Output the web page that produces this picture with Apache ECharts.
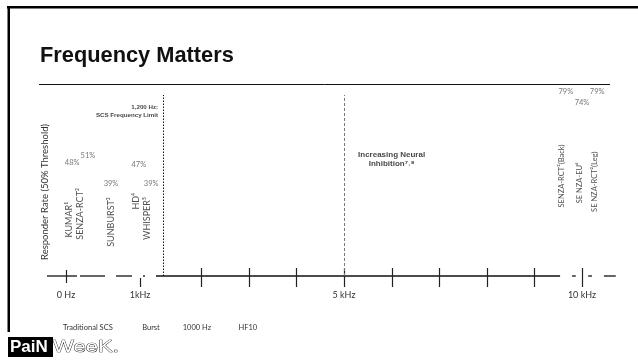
<!DOCTYPE html>
<html>
<head>
<meta charset="utf-8">
<script src="https://cdn.jsdelivr.net/npm/echarts@6/dist/echarts.min.js"></script>
<style>
html,body{margin:0;padding:0;background:#fff;}
#chart{width:638px;height:360px;}
</style>
</head>
<body>
<div id="chart"></div>
<script>
// ---- data ----
const titleText = 'Frequency Matters';
const yAxisTitle = 'Responder Rate (50% Threshold)';
const studies = ['KUMAR¹', 'SENZA-RCT²', 'SUNBURST³', 'HD⁴', 'WHISPER⁵', 'SENZA-RCT²(Back)', 'SE NZA-EU⁶', 'SE NZA-RCT²(Leg)'];
const responderRates = [48, 51, 39, 47, 39, 79, 74, 79];
// display positions on the (broken) frequency axis, in kHz units
const rateLabelPos = [-0.71, -0.38, 0.105, 0.69, 0.95, 9.66, 10.0, 10.32];
const studyNamePos = [-0.78, -0.55, 0.10, 0.63, 0.86, 9.58, 9.94, 10.27];
const studyNameLevel = [24.5, 27, 23.5, 32.5, 25, 43.5, 40.5, 41];
const studyNameSize = [9, 9, 9, 9, 9, 7.5, 7.5, 7.5];
const tickValues = [-0.84, 0.714, 2, 3, 4, 5, 6, 7, 8, 9, 10];
const tickKinds = ['short', 'below', 'full', 'full', 'full', 'full', 'full', 'full', 'full', 'full', 'full'];
const tickLabelValues = [-0.84, 0.714, 5, 10];
const tickLabels = ['0 Hz', '1kHz', '5 kHz', '10 kHz'];
const therapyPos = [-0.38, 0.945, 1.91, 2.98];
const therapyLabels = ['Traditional SCS', 'Burst', '1000 Hz', 'HF10'];
const axisSegments = [[-1.24, -0.61], [-0.546, -0.02], [0.21, 0.546], [0.777, 0.82], [1.05, 9.54], [9.79, 9.87], [10.13, 10.21], [10.46, 10.71]];
const limitKHz = 1.2;
const limitLabel = '1,200 Hz:\nSCS Frequency Limit';
const neuralKHz = 5;
const neuralLabel = 'Increasing Neural\nInhibition⁷˒⁸';
const neuralLabelPos = [6.0, 50.8];
const guideTop = 78.7;

// ---- chart ----
const FONT = 'Lato, "Open Sans", sans-serif';
const chart = echarts.init(document.getElementById('chart'), null, {renderer: 'canvas'});

const tickShape = {short: [-6, 7], below: [2, 11], full: [-8, 11]};

function labelFor(values, labels) {
  return function (v) {
    for (let i = 0; i < values.length; i++) {
      if (Math.abs(values[i] - v) < 1e-6) return labels[i];
    }
    return '';
  };
}

const option = {
  backgroundColor: '#fff',
  animation: false,
  title: {
    text: titleText,
    left: 40, top: 45, padding: 0,
    textStyle: {fontFamily: '"Liberation Sans", Arial, sans-serif', fontWeight: 'bold', fontSize: 21.8, color: '#111'}
  },
  grid: {left: 46.5, right: 22.7, top: 46, bottom: 84},
  xAxis: [{
    type: 'value', min: -1.25, max: 10.7,
    axisLine: {show: false}, axisTick: {show: false}, splitLine: {show: false},
    axisLabel: {
      show: true, customValues: tickLabelValues, margin: 15,
      formatter: labelFor(tickLabelValues, tickLabels),
      fontFamily: FONT, fontSize: 9, color: '#333'
    }
  }, {
    type: 'value', min: -1.25, max: 10.7, position: 'bottom',
    axisLine: {show: false}, axisTick: {show: false}, splitLine: {show: false},
    axisLabel: {
      show: true, customValues: therapyPos, margin: 48,
      formatter: labelFor(therapyPos, therapyLabels),
      fontFamily: FONT, fontSize: 7.5, color: '#333'
    }
  }],
  yAxis: {
    type: 'value', min: 0, max: 100,
    axisLine: {show: false}, axisTick: {show: false}, axisLabel: {show: false}, splitLine: {show: false},
    name: yAxisTitle, nameLocation: 'middle', nameRotate: 90, nameGap: -3,
    nameTextStyle: {fontFamily: FONT, fontSize: 9.5, color: '#333', padding: [0, 62, 0, 0]}
  },
  series: [
    {
      type: 'custom', name: 'axis', silent: true, clip: false,
      encode: {x: [0, 1]},
      data: axisSegments,
      renderItem: function (params, api) {
        const a = api.coord([api.value(0), 0]);
        const b = api.coord([api.value(1), 0]);
        return {type: 'line', shape: {x1: a[0], y1: a[1], x2: b[0], y2: b[1]}, style: {stroke: '#111', lineWidth: 1.3}};
      },
      markLine: {
        silent: true, symbol: 'none', label: {show: false},
        data: [
          [{coord: [limitKHz, 0], lineStyle: {type: [1.5, 1.5], color: '#111', width: 1}}, {coord: [limitKHz, guideTop]}],
          [{coord: [neuralKHz, 0], lineStyle: {type: [3, 2], color: '#777', width: 1}}, {coord: [neuralKHz, guideTop]}]
        ]
      }
    },
    {
      type: 'custom', name: 'ticks', silent: true, clip: false,
      data: tickValues.map((v, i) => [v, 0, i]),
      renderItem: function (params, api) {
        const p = api.coord([api.value(0), 0]);
        const s = tickShape[tickKinds[api.value(2)]];
        return {type: 'line', shape: {x1: Math.round(p[0]) + 0.5, y1: p[1] + s[0], x2: Math.round(p[0]) + 0.5, y2: p[1] + s[1]}, style: {stroke: '#222', lineWidth: 1.2}};
      }
    },
    {
      type: 'scatter', name: 'rates', symbolSize: 0, silent: true,
      data: responderRates.map((r, i) => [rateLabelPos[i], r]),
      label: {
        show: true, position: 'inside', offset: [0, -3],
        formatter: p => p.value[1] + '%',
        fontFamily: FONT, fontSize: 7.5, color: '#555'
      }
    },
    {
      type: 'scatter', name: 'studies', symbolSize: 0, silent: true,
      data: studies.map((s, i) => ({value: [studyNamePos[i], studyNameLevel[i]], name: s, label: {fontSize: studyNameSize[i]}})),
      label: {
        show: true, position: 'inside', rotate: 90,
        formatter: p => p.name,
        fontFamily: FONT, fontSize: 9, color: '#222'
      }
    },
    {
      type: 'scatter', name: 'notes', symbolSize: 0, silent: true,
      data: [
        {value: [limitKHz, 71.4], name: limitLabel, label: {align: 'right', offset: [-5, 0], fontSize: 6.2, lineHeight: 8}},
        {value: neuralLabelPos, name: neuralLabel, label: {align: 'center', fontSize: 8, lineHeight: 8.5}}
      ],
      label: {
        show: true, position: 'inside',
        formatter: p => p.name,
        fontFamily: '"Liberation Sans", Arial, sans-serif', fontWeight: 'bold', color: '#111'
      }
    }
  ],
  graphic: [
    {type: 'rect', shape: {x: 7, y: 6, width: 640, height: 2.5}, style: {fill: '#000'}, silent: true},
    {type: 'rect', shape: {x: 7.5, y: 6, width: 2.5, height: 326}, style: {fill: '#000'}, silent: true},
    {type: 'line', shape: {x1: 39, y1: 84.5, x2: 610, y2: 84.5}, style: {stroke: '#111', lineWidth: 1}, silent: true},
    {type: 'rect', shape: {x: 8, y: 337, width: 45, height: 20}, style: {fill: '#000'}, silent: true},
    {type: 'text', x: 10, y: 347.5, style: {text: 'PaiN', fill: '#fff', font: 'bold 17px "Liberation Sans", Arial, sans-serif', verticalAlign: 'middle'}, silent: true},
    {type: 'text', x: 53, y: 347.5, scaleX: 1.3, style: {text: 'WeeK.', fill: '#fff', stroke: '#000', lineWidth: 0.7, font: '17px "Liberation Sans", Arial, sans-serif', verticalAlign: 'middle'}, silent: true}
  ]
};
chart.setOption(option);
</script>
</body>
</html>
